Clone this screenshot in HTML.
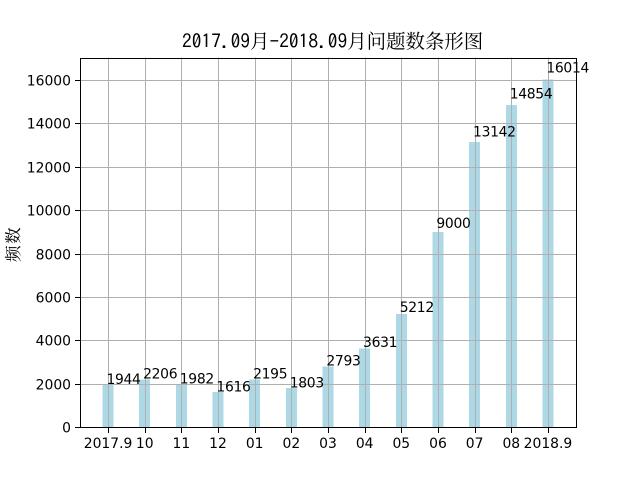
<!DOCTYPE html>
<html>
<head>
<meta charset="utf-8">
<style>
html,body{margin:0;padding:0;background:#fff;width:640px;height:480px;overflow:hidden}
svg{display:block}
text{font-family:"DejaVu Sans","Liberation Sans",sans-serif;font-size:13.9px;fill:#000}
.cjk{font-family:"Noto Serif CJK SC","WenQuanYi Zen Hei",serif}
.lat{font-family:"IPAGothic","WenQuanYi Zen Hei",sans-serif}
.val{letter-spacing:-0.3px}
</style>
</head>
<body>
<svg id="chart" width="640" height="480" viewBox="0 0 640 480" xmlns="http://www.w3.org/2000/svg">
<text y="48" style="font-size:19.44px"><tspan class="lat" x="182 191.7 201.4 211.2 220.9 230.6 240.3">2017.09</tspan><tspan class="cjk" x="250">月</tspan><tspan class="lat" x="269.5">-</tspan><tspan class="lat" x="279.2 288.9 298.6 308.4 318.1 327.8 337.5">2018.09</tspan><tspan class="cjk" x="347.2 366.6 386.1 405.5 425 444.4 463.8">月问题数条形图</tspan></text>
<text class="cjk" transform="translate(19 244) rotate(-90)" text-anchor="middle" style="font-size:16.67px;letter-spacing:1.5px">频数</text>
<g id="bars"></g>
<g id="grid"></g>
<g id="ticks"></g>
<g id="labels"></g>
<rect x="80.5" y="58.5" width="496" height="369" fill="none" stroke="#000" stroke-width="1" shape-rendering="crispEdges"></rect>
</svg>
<script>
const categories = ['2017.9','10','11','12','01','02','03','04','05','06','07','08','2018.9'];
const frequencies = [1944,2206,1982,1616,2195,1803,2793,3631,5212,9000,13142,14854,16014];
const yTicks = [0,2000,4000,6000,8000,10000,12000,14000,16000];
const yMax = 17032;
const plotLeft = 80, plotRight = 576, plotTop = 57.6, plotBottom = 427.2;
const xStep = (plotRight - plotLeft) / 13.53;
const NS = 'http://www.w3.org/2000/svg';
function xScale(i){ return plotLeft + (i + 0.765) * xStep; }
function yScale(v){ return plotBottom - (v / yMax) * (plotBottom - plotTop); }
function make(tag, attrs, parent, txt){
  const el = document.createElementNS(NS, tag);
  for (const k in attrs) el.setAttribute(k, attrs[k]);
  if (txt !== undefined) el.textContent = txt;
  parent.appendChild(el);
  return el;
}
const barsG = document.getElementById('bars');
const gridG = document.getElementById('grid');
const ticksG = document.getElementById('ticks');
const labelsG = document.getElementById('labels');
const barW = 0.3 * xStep;
frequencies.forEach(function(v, i){
  const cx = xScale(i);
  const bar = make('rect', {x: cx - barW / 2, y: yScale(v), width: barW, height: plotBottom - yScale(v), fill: '#add8e6', 'shape-rendering': 'crispEdges'}, barsG);
  
  
  const lab = make('text', {x: cx - 1.6, y: yScale(v * 1.02), class: 'val'}, labelsG, String(v));
  
  
});
categories.forEach(function(c, i){
  const px = Math.round(xScale(i)) + 0.5;
  const g = make('line', {x1: px, x2: px, y1: plotTop, y2: plotBottom, stroke: '#b0b0b0', 'stroke-width': 1, 'shape-rendering': 'crispEdges'}, gridG);
  
  
  const t = make('line', {x1: px, x2: px, y1: 427, y2: 433, stroke: '#000', 'stroke-width': 1, 'shape-rendering': 'crispEdges'}, ticksG);
  
  
  const l = make('text', {x: xScale(i), y: 448, 'text-anchor': 'middle'}, ticksG, c);
  
  
});
yTicks.forEach(function(v){
  const py = Math.round(yScale(v)) + 0.5;
  const g = make('line', {x1: plotLeft, x2: plotRight, y1: py, y2: py, stroke: '#b0b0b0', 'stroke-width': 1, 'shape-rendering': 'crispEdges'}, gridG);
  
  
  const t = make('line', {x1: 75, x2: 80, y1: py, y2: py, stroke: '#000', 'stroke-width': 1, 'shape-rendering': 'crispEdges'}, ticksG);
  
  
  const l = make('text', {x: 71, y: py + 5, 'text-anchor': 'end'}, ticksG, String(v));
  
  
});
</script>
</body>
</html>
